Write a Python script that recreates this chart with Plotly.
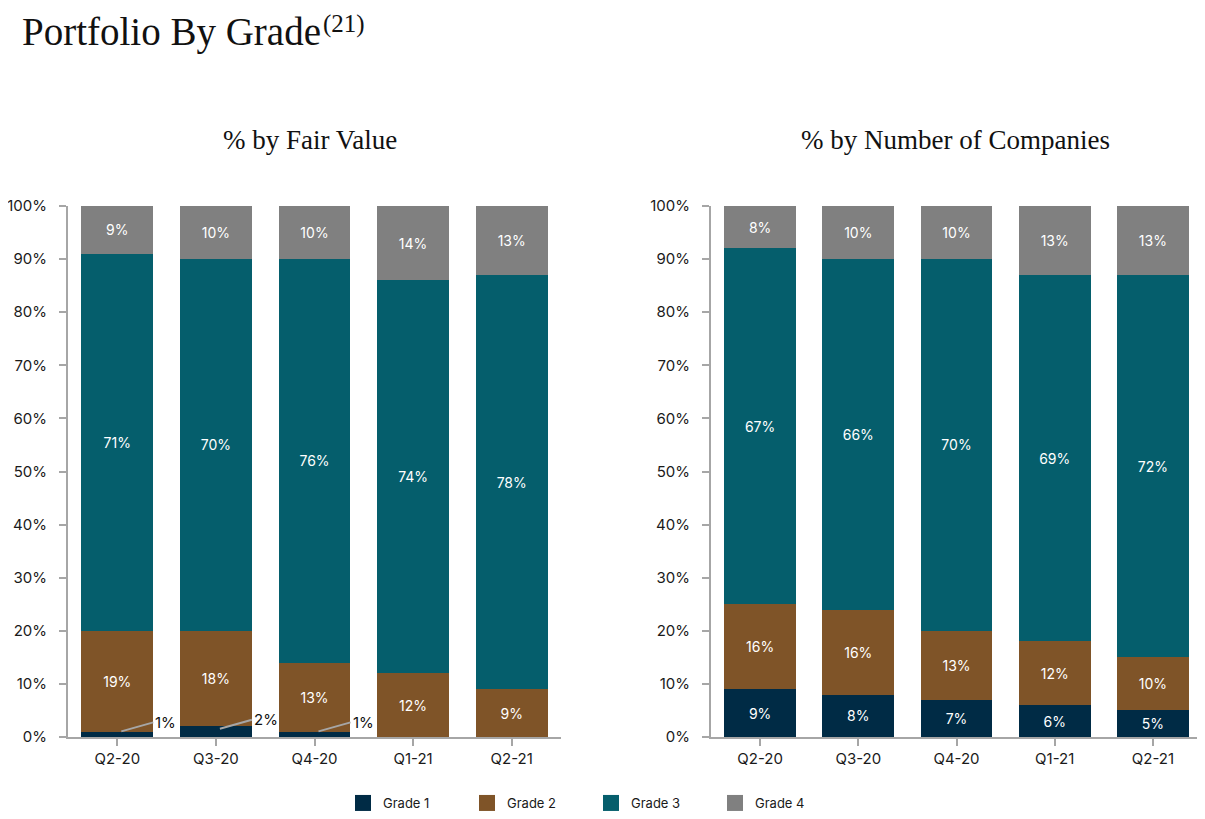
import plotly.graph_objects as go

quarters = ["Q2-20", "Q3-20", "Q4-20", "Q1-21", "Q2-21"]
grades = ["Grade 1", "Grade 2", "Grade 3", "Grade 4"]
colors = ["#002B45", "#7F5428", "#055E6C", "#808080"]

# % by Fair Value
fv_g1 = [1, 2, 1, 0, 0]
fv_g2 = [19, 18, 13, 12, 9]
fv_g3 = [71, 70, 76, 74, 78]
fv_g4 = [9, 10, 10, 14, 13]

# % by Number of Companies
nc_g1 = [9, 8, 7, 6, 5]
nc_g2 = [16, 16, 13, 12, 10]
nc_g3 = [67, 66, 70, 69, 72]
nc_g4 = [8, 10, 10, 13, 13]

yticks = [0, 10, 20, 30, 40, 50, 60, 70, 80, 90, 100]
ytick_labels = [f"{v}%" for v in yticks]

W, H = 1205, 819
OFF = 8  # page offset of the plot div


def px(v):
    return (v - OFF) / W


def py(v):
    return 1 - (v - OFF) / H


sans = "Inter"
serif = "Liberation Serif"

fig = go.Figure()

fv = [fv_g1, fv_g2, fv_g3, fv_g4]
nc = [nc_g1, nc_g2, nc_g3, nc_g4]

for i, (g, c) in enumerate(zip(grades, colors)):
    vals = fv[i]
    fig.add_trace(go.Bar(
        x=quarters, y=vals, name=g, marker=dict(color=c, line=dict(width=0)),
        text=[f"{v}%" for v in vals] if i > 0 else None,
        textposition="inside" if i > 0 else "none",
        insidetextanchor="middle",
        textfont=dict(color="white", size=14, family=sans),
        xaxis="x", yaxis="y", showlegend=False, legendgroup=g,
        hoverinfo="skip",
    ))
for i, (g, c) in enumerate(zip(grades, colors)):
    vals = nc[i]
    fig.add_trace(go.Bar(
        x=quarters, y=vals, name=g, marker=dict(color=c, line=dict(width=0)),
        text=[f"{v}%" for v in vals],
        textposition="inside", insidetextanchor="middle",
        textfont=dict(color="white", size=14, family=sans),
        xaxis="x2", yaxis="y2", showlegend=False, legendgroup=g,
        hoverinfo="skip",
    ))
# legend entries with larger square swatches
for g, c in zip(grades, colors):
    fig.add_trace(go.Scatter(
        x=[None], y=[None], mode="markers", name=g, legendgroup=g,
        marker=dict(symbol="square", size=16, color=c, line=dict(width=0)),
        xaxis="x", yaxis="y", showlegend=True, hoverinfo="skip",
    ))

axis_col = "#A6A6A6"
xcommon = dict(range=[-0.5, 4.5], showline=True, linecolor=axis_col, linewidth=2,
               ticks="outside", tickcolor=axis_col, ticklen=7, tickwidth=2,
               showgrid=False, zeroline=False, automargin=False,
               tickfont=dict(family=sans, size=15, color="#1a1a1a"))
ycommon = dict(range=[0, 100], tickvals=yticks, ticktext=ytick_labels,
               showline=True, linecolor=axis_col, linewidth=2,
               ticks="outside", tickcolor=axis_col, ticklen=7, tickwidth=2,
               showgrid=False, zeroline=False, automargin=False, ticklabelstandoff=9,
               tickfont=dict(family=sans, size=15, color="#1a1a1a"))

fig.update_layout(
    width=W, height=H,
    margin=dict(l=0, r=0, t=0, b=0, autoexpand=False),
    paper_bgcolor="white", plot_bgcolor="white",
    barmode="stack", bargap=0.27,
    xaxis=dict(domain=[px(68), px(561)], anchor="y", **xcommon),
    yaxis=dict(domain=[py(737), py(206)], anchor="x", **ycommon),
    xaxis2=dict(domain=[px(711), px(1202)], anchor="y2", **xcommon),
    yaxis2=dict(domain=[py(737), py(206)], anchor="x2", **ycommon),
    legend=dict(orientation="h", x=px(343), xanchor="left", y=py(803), yanchor="middle",
                font=dict(family=sans, size=13, color="#1a1a1a"),
                entrywidth=79, entrywidthmode="pixels", traceorder="normal"),
    showlegend=True,
)

annotations = [
    dict(text="Portfolio By Grade", x=px(20), y=py(8), xref="paper", yref="paper",
         xanchor="left", yanchor="top", showarrow=False,
         font=dict(family=serif, size=39, color="#111111")),
    dict(text="(21)", x=px(321), y=py(8), xref="paper", yref="paper",
         xanchor="left", yanchor="top", showarrow=False,
         font=dict(family=serif, size=25, color="#111111")),
    dict(text="% by Fair Value", x=px(310), y=py(140), xref="paper", yref="paper",
         xanchor="center", yanchor="middle", showarrow=False,
         font=dict(family=serif, size=27, color="#111111")),
    dict(text="% by Number of Companies", x=px(955), y=py(140), xref="paper", yref="paper",
         xanchor="center", yanchor="middle", showarrow=False,
         font=dict(family=serif, size=27, color="#111111")),
]
# leader-line labels for the small Grade 1 fair-value slices
for q, v in zip(quarters, fv_g1):
    if v > 0:
        annotations.append(dict(
            text=f"{v}%", x=q, y=v / 2, xref="x", yref="y", yshift=3, xshift=4,
            showarrow=True, arrowhead=0, arrowwidth=2, arrowcolor="#A6A6A6",
            ax=32, ay=-9, xanchor="left", yanchor="middle",
            font=dict(family=sans, size=15, color="#111111"),
        ))
fig.update_layout(annotations=annotations)

fig.write_html("out.html")
